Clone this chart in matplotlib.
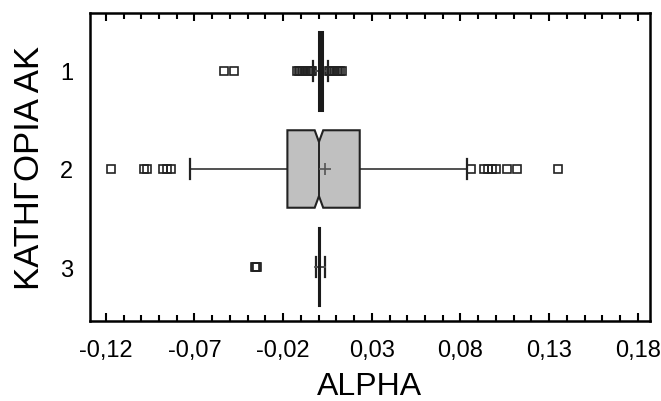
import matplotlib
matplotlib.use("Agg")
import matplotlib.pyplot as plt
from matplotlib.ticker import FixedLocator, MultipleLocator

plt.rcParams['font.family'] = ['Liberation Sans', 'DejaVu Sans']

# values
categories = ["1", "2", "3"]
q1 = [0.0005, -0.0176, 0.0003]
med = [0.0012, 0.0002, 0.0006]
q3 = [0.0019, 0.0232, 0.0009]
mean = [0.0013, 0.0034, 0.0006]
whis_lo = [-0.0031, -0.0726, -0.0016]
whis_hi = [0.0053, 0.0839, 0.0034]
notch_lo = [None, -0.0022, None]
notch_hi = [None, 0.0026, None]
fliers_1 = [-0.0535, -0.0478,
            -0.0122, -0.0113, -0.0104, -0.0096, -0.0087, -0.0078,
            -0.0069, -0.0060, -0.0051, -0.0042, -0.0035,
            0.0058, 0.0067, 0.0076, 0.0085, 0.0094, 0.0103,
            0.0112, 0.0121, 0.0130]
fliers_2 = [-0.1172, -0.0986, -0.0969, -0.0879, -0.0856, -0.0834,
            0.0861, 0.0931, 0.0953, 0.0976, 0.0998, 0.1060, 0.1117, 0.1348]
fliers_3 = [-0.0360, -0.0355, -0.0350]
fliers = [fliers_1, fliers_2, fliers_3]
xticks = [-0.12, -0.07, -0.02, 0.03, 0.08, 0.13, 0.18]

fig = plt.figure(figsize=(6.61, 4.02), dpi=100)
ax = fig.add_axes([0.136, 0.199, 0.847, 0.766])

pos = [1, 2, 3]
stats = []
for i in range(3):
    stats.append(dict(med=med[i], q1=q1[i], q3=q3[i], whislo=whis_lo[i],
                      whishi=whis_hi[i], fliers=fliers[i], mean=mean[i]))

ax.bxp(stats, positions=pos, orientation='horizontal', showbox=False,
       showmeans=True, showfliers=True, capwidths=0.21,
       whiskerprops=dict(color='#222222', lw=1.1),
       capprops=dict(color='#222222', lw=1.6),
       medianprops=dict(linestyle='none'),
       meanprops=dict(marker='+', markersize=9, markeredgecolor='#555555',
                      markeredgewidth=1.2),
       flierprops=dict(marker='s', markersize=5.3, markerfacecolor='none',
                       markeredgecolor='#222222', markeredgewidth=1.2))

h = 0.395
k = 0.7
box_lw = [2.2, 1.5, 1.5]
for i, p in enumerate(pos):
    if notch_lo[i] is None:
        xs = [q1[i], q3[i], q3[i], q1[i]]
        ys = [p - h, p - h, p + h, p + h]
        ax.fill(xs, ys, facecolor='#1a1a1a', edgecolor='#1a1a1a',
                lw=box_lw[i], zorder=3)
    else:
        xs = [q1[i], notch_lo[i], med[i], notch_hi[i], q3[i],
              q3[i], notch_hi[i], med[i], notch_lo[i], q1[i]]
        ys = [p - h, p - h, p - h * k, p - h, p - h,
              p + h, p + h, p + h * k, p + h, p + h]
        ax.plot([med[i], med[i]], [p - h * k, p + h * k], color='#222222',
                lw=1.4, zorder=4)
        ax.fill(xs, ys, facecolor='#c0c0c0', edgecolor='#222222',
                lw=box_lw[i], zorder=3)
        ax.plot([mean[i]], [p], marker='+', markersize=9, color='#555555',
                markeredgewidth=1.2, zorder=5)

ax.set_xlim(-0.129, 0.1868)
ax.set_ylim(3.55, 0.41)
ax.xaxis.set_major_locator(FixedLocator(xticks))
ax.xaxis.set_minor_locator(MultipleLocator(0.01))
ax.set_xticklabels([f"{v:.2f}".replace('.', ',') for v in xticks])
ax.set_yticks(pos)
ax.set_yticklabels(categories)

ax.tick_params(axis='x', which='both', direction='in', top=True, bottom=True,
               width=1.5, labelsize=17, pad=13)
ax.tick_params(axis='x', which='major', length=6)
ax.tick_params(axis='x', which='minor', length=4)
ax.tick_params(axis='y', which='both', length=0, labelsize=17, pad=12)

for s in ax.spines.values():
    s.set_linewidth(1.8)

ax.set_xlabel("ALPHA", fontsize=23, labelpad=7)
ax.set_ylabel("ΚΑΤΗΓΟΡΙΑ ΑΚ", fontsize=25, labelpad=10)

fig.savefig("out.png", dpi=100)
